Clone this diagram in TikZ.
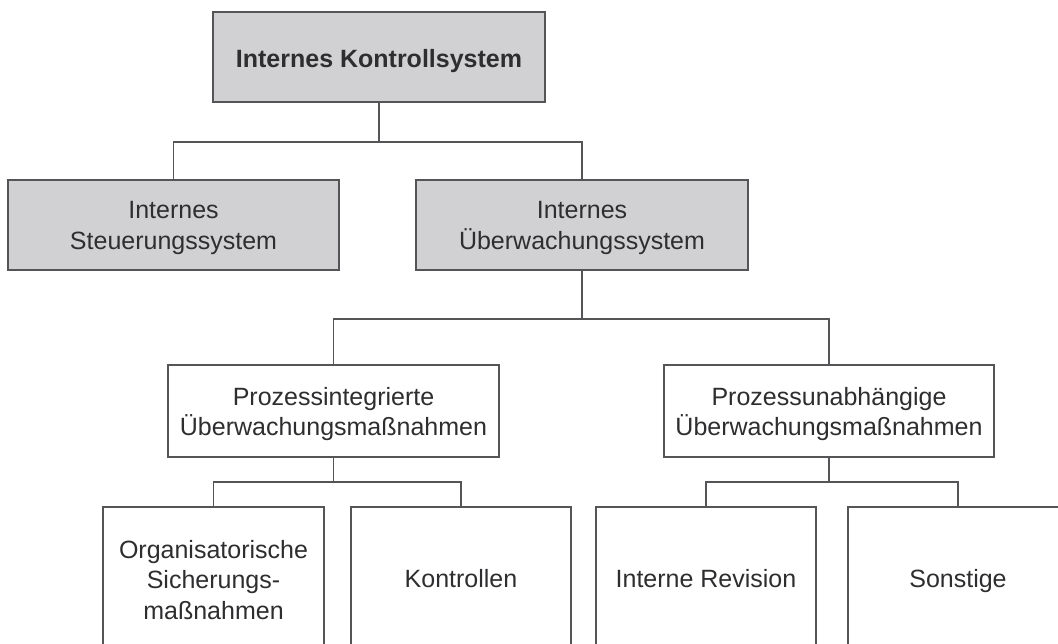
\documentclass[tikz,border=0pt]{standalone}
\usepackage{fontspec}
\setmainfont{Liberation Sans}
\begin{document}
\begin{tikzpicture}[x=1pt,y=-1pt,
  box/.style={draw=linegray, line width=1.7pt, inner sep=0pt},
  graybox/.style={box, fill=boxgray},
  whitebox/.style={box, fill=white},
  txt/.style={inner sep=0pt, align=center, text=textgray,
    font=\fontsize{25}{30.8}\selectfont},
  conn/.style={draw=linegray, line width=1.7pt}]
\definecolor{linegray}{HTML}{555558}
\definecolor{boxgray}{HTML}{D1D1D3}
\definecolor{textgray}{HTML}{2E2E30}
\useasboundingbox (0,0) rectangle (1058,644);
\clip (0,0) rectangle (1058,644);
% level 0
\node[graybox, minimum width=332pt, minimum height=90pt] (ks) at (379,57) {};
\node[txt, font=\fontsize{25}{30.8}\selectfont\bfseries] (ksT) at ([yshift=-4pt]ks.center) {Internes Kontrollsystem};
% level 1
\node[graybox, minimum width=331pt, minimum height=90pt] (steu) at (173.5,225) {};
\node[txt] (steuT) at ([yshift=-3pt]steu.center) {Internes\\Steuerungssystem};
\node[graybox, minimum width=332pt, minimum height=90pt] (ueb) at (582,225) {};
\node[txt] (uebT) at ([yshift=-3pt]ueb.center) {Internes\\Überwachungssystem};
% level 2
\node[whitebox, minimum width=331pt, minimum height=92pt] (pi) at (333.5,411) {};
\node[txt] (piT) at ([yshift=-3pt]pi.center) {Prozessintegrierte\\Überwachungsmaßnahmen};
\node[whitebox, minimum width=330pt, minimum height=92pt] (pu) at (829,411) {};
\node[txt] (puT) at ([yshift=-3pt]pu.center) {Prozessunabhängige\\Überwachungsmaßnahmen};
% level 3
\node[whitebox, minimum width=221pt, minimum height=144pt] (org) at (213.5,579) {};
\node[txt] (orgT) at ([yshift=-1pt]org.center) {Organisatorische\\Sicherungs-\\maßnahmen};
\node[whitebox, minimum width=220pt, minimum height=144pt] (ktr) at (461,579) {};
\node[txt] (ktrT) at (ktr.center) {Kontrollen};
\node[whitebox, minimum width=220pt, minimum height=144pt] (rev) at (706,579) {};
\node[txt] (revT) at (rev.center) {Interne Revision};
\node[whitebox, minimum width=220pt, minimum height=144pt] (son) at (958,579) {};
\node[txt] (sonT) at ([yshift=-2.5pt]son.center) {Sonstige};
% junctions
\coordinate (j1) at (379,142);
\coordinate (j2) at (582,319);
\coordinate (j3) at (333.5,482);
\coordinate (j4) at (829,482);
% connectors
\draw[conn] (ks.south) -- (j1);
\draw[conn] (j1) -| (steu.north);
\draw[conn] (j1) -| (ueb.north);
\draw[conn] (ueb.south) -- (j2);
\draw[conn] (j2) -| (pi.north);
\draw[conn] (j2) -| (pu.north);
\draw[conn] (pi.south) -- (j3);
\draw[conn] (j3) -| (org.north);
\draw[conn] (j3) -| (ktr.north);
\draw[conn] (pu.south) -- (j4);
\draw[conn] (j4) -| (rev.north);
\draw[conn] (j4) -| (son.north);
\end{tikzpicture}
\end{document}
